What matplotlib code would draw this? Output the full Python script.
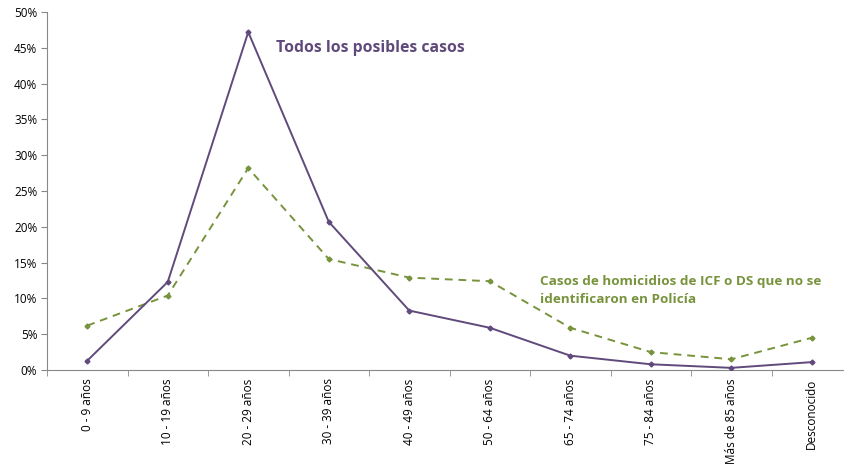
import matplotlib
matplotlib.use("Agg")
import matplotlib.pyplot as plt
from matplotlib.ticker import PercentFormatter, FixedLocator

categories = ["0 - 9 años", "10 - 19 años", "20 - 29 años", "30 - 39 años", "40 - 49 años",
              "50 - 64 años", "65 - 74 años", "75 - 84 años", "Más de 85 años", "Desconocido"]
todos = [1.3, 12.3, 47.2, 20.7, 8.3, 5.9, 2.0, 0.8, 0.3, 1.1]
no_policia = [6.2, 10.4, 28.2, 15.5, 12.9, 12.4, 5.9, 2.5, 1.5, 4.5]

purple = "#604A7B"
green = "#77933C"

plt.rcParams['font.family'] = ['Open Sans', 'DejaVu Sans']

fig = plt.figure(figsize=(8.44, 4.66), dpi=100)
ax = fig.add_axes([47/844, 96/466, (852-47)/844, 358/466])

x = list(range(len(categories)))
ax.plot(x, todos, color=purple, lw=1.4, marker='D', ms=2.5, zorder=3)
ax.plot(x, no_policia, color=green, lw=1.4, ls=(0, (4, 3)), marker='D', ms=2.5, zorder=2)

ax.set_ylim(0, 50)
ax.set_yticks(range(0, 51, 5))
ax.yaxis.set_major_formatter(PercentFormatter(decimals=0))
ax.set_xlim(-0.5, len(categories) - 0.5)
ax.set_xticks(x)
ax.set_xticklabels(categories, rotation=90, fontsize=8.5)
ax.xaxis.set_minor_locator(FixedLocator([i + 0.5 for i in range(-1, len(categories))]))
ax.tick_params(axis='x', which='major', length=0, pad=6)
ax.tick_params(axis='x', which='minor', length=4, color='#888888')
ax.tick_params(axis='y', length=4, color='#888888', labelsize=8.5, pad=3)

for s in ['top', 'right']:
    ax.spines[s].set_visible(False)
for s in ['left', 'bottom']:
    ax.spines[s].set_color('#888888')

ax.text(2.35, 45.0, "Todos los posibles casos", color=purple, fontsize=11.3,
        fontweight='bold', ha='left', va='center')
ax.text(5.62, 8.9, "Casos de homicidios de ICF o DS que no se\nidentificaron en Policía",
        color=green, fontsize=9.7, fontweight='bold', ha='left', va='bottom', linespacing=1.55)

fig.savefig("out.png", dpi=100)
